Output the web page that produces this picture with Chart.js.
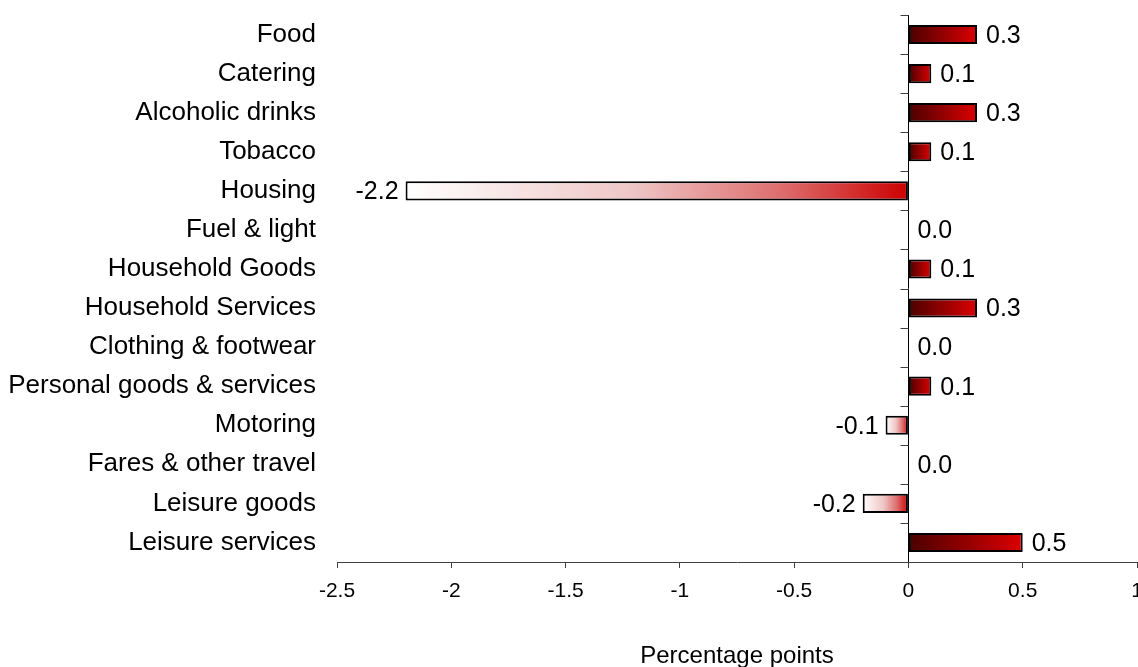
<!DOCTYPE html>
<html>
<head>
<meta charset="utf-8">
<title>Contributions by category</title>
<script src="https://cdn.jsdelivr.net/npm/chart.js@4.4.1/dist/chart.umd.min.js"></script>
<style>
  html, body { margin: 0; padding: 0; background: #ffffff; }
  #wrap { width: 1138px; height: 667px; position: relative; }
</style>
</head>
<body>
<div id="wrap"><canvas id="chart"></canvas></div>
<script>
// Category names, top to bottom
const categories = [
  'Food',
  'Catering',
  'Alcoholic drinks',
  'Tobacco',
  'Housing',
  'Fuel & light',
  'Household Goods',
  'Household Services',
  'Clothing & footwear',
  'Personal goods & services',
  'Motoring',
  'Fares & other travel',
  'Leisure goods',
  'Leisure services'
];

// Contribution of each category, percentage points
const contributions = [0.3, 0.1, 0.3, 0.1, -2.2, 0.0, 0.1, 0.3, 0.0, 0.1, -0.1, 0.0, -0.2, 0.5];

// Value axis range, tick spacing and tick labels
const xMin = -2.5;
const xMax = 1;
const xStep = 0.5;
const xTickLabels = ['-2.5', '-2', '-1.5', '-1', '-0.5', '0', '0.5', '1'];
const xAxisTitle = 'Percentage points';

const FONT = '"Liberation Sans", Arial, Helvetica, sans-serif';
Chart.defaults.font.family = FONT;
Chart.defaults.color = '#000000';

// Gradient fill for each bar, running from the zero line to the bar's end
function barFill(context) {
  const chart = context.chart;
  const xs = chart.scales && chart.scales.x;
  const v = context.raw;
  if (!xs || typeof v !== 'number') return '#cc0000';
  const p0 = xs.getPixelForValue(0);
  const p1 = xs.getPixelForValue(v);
  if (!isFinite(p0) || !isFinite(p1) || Math.abs(p1 - p0) < 0.5) return '#cc0000';
  const g = chart.ctx.createLinearGradient(p0, 0, p1, 0);
  if (v > 0) {
    g.addColorStop(0, '#4a0000');
    g.addColorStop(1, '#dc0000');
  } else {
    g.addColorStop(0, '#cc0000');
    g.addColorStop(0.25, '#dd6c6c');
    g.addColorStop(0.55, '#efc6c6');
    g.addColorStop(1, '#ffffff');
  }
  return g;
}

// Short tick marks on the zero line, between the categories
const zeroAxisTicks = {
  id: 'zeroAxisTicks',
  afterDatasetsDraw(chart) {
    const xs = chart.scales.x, ys = chart.scales.y;
    const n = categories.length;
    if (n < 2) return;
    const px = Math.round(xs.getPixelForValue(0)) + 0.5;
    const step = ys.getPixelForValue(1) - ys.getPixelForValue(0);
    const ctx = chart.ctx;
    ctx.save();
    ctx.strokeStyle = '#404040';
    ctx.lineWidth = 1;
    ctx.beginPath();
    for (let i = 0; i < n; i++) {
      const py = Math.round(ys.getPixelForValue(i) - step / 2) + 0.5;
      ctx.moveTo(px - 8, py);
      ctx.lineTo(px, py);
    }
    ctx.stroke();
    ctx.restore();
  }
};

// Value printed beside the end of each bar
const valueLabels = {
  id: 'valueLabels',
  afterDatasetsDraw(chart) {
    const meta = chart.getDatasetMeta(0);
    const ctx = chart.ctx;
    ctx.save();
    ctx.font = '25px ' + FONT;
    ctx.fillStyle = '#000000';
    ctx.textBaseline = 'middle';
    meta.data.forEach((bar, i) => {
      const v = contributions[i];
      const txt = v.toFixed(1);
      if (v < 0) {
        ctx.textAlign = 'right';
        ctx.fillText(txt, bar.x - 7, bar.y + 1.5);
      } else {
        ctx.textAlign = 'left';
        ctx.fillText(txt, bar.x + 9, bar.y + 1.5);
      }
    });
    ctx.restore();
  }
};

new Chart(document.getElementById('chart'), {
  type: 'bar',
  data: {
    labels: categories,
    datasets: [{
      data: contributions,
      backgroundColor: barFill,
      borderColor: '#000000',
      borderWidth: 2,
      borderSkipped: false,
      barPercentage: 0.49,
      categoryPercentage: 1
    }]
  },
  options: {
    indexAxis: 'y',
    responsive: true,
    maintainAspectRatio: false,
    animation: false,
    devicePixelRatio: 1,
    layout: { padding: { top: 15, right: 1, left: 0, bottom: 0 } },
    plugins: {
      legend: { display: false },
      tooltip: { enabled: false }
    },
    scales: {
      x: {
        type: 'linear',
        position: 'bottom',
        min: xMin,
        max: xMax,
        ticks: {
          stepSize: xStep,
          color: '#000000',
          font: { size: 21 },
          padding: 11,
          maxRotation: 0,
          autoSkip: false,
          callback: (value, index) => xTickLabels[index]
        },
        grid: {
          color: (c) => (c.tick && c.tick.value === 0 ? '#000000' : 'rgba(0,0,0,0)'),
          tickColor: '#404040',
          tickLength: 6,
          lineWidth: 1,
          drawOnChartArea: true
        },
        border: { display: true, color: '#404040', width: 1 },
        title: {
          display: true,
          text: xAxisTitle,
          color: '#000000',
          font: { size: 24 },
          padding: { top: 0, bottom: -4 }
        },
        afterFit(scale) {
          scale.height = 105;
          scale.paddingLeft = 0;
          scale.paddingRight = 0;
        }
      },
      y: {
        type: 'category',
        offset: true,
        grid: { display: false, drawTicks: false },
        border: { display: false },
        ticks: {
          color: '#000000',
          font: { size: 26 },
          padding: 21,
          autoSkip: false
        },
        afterFit(scale) {
          scale.width = 337;
          scale.paddingTop = 0;
          scale.paddingBottom = 0;
        }
      }
    }
  },
  plugins: [zeroAxisTicks, valueLabels]
});
</script>
</body>
</html>
